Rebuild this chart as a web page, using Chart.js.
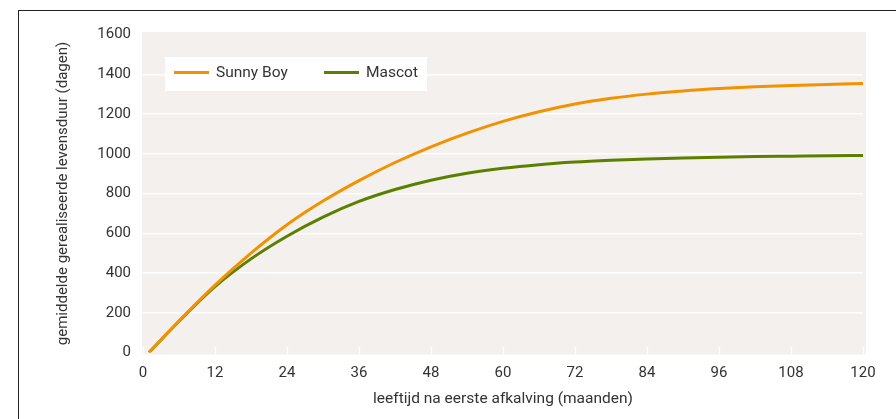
<!DOCTYPE html>
<html>
<head>
<meta charset="utf-8">
<script src="https://cdn.jsdelivr.net/npm/chart.js@4/dist/chart.umd.min.js"></script>
<style>
  html, body { margin: 0; padding: 0; background: #fff; }
  #wrap { position: relative; width: 896px; height: 419px; }
  #frame { position: absolute; left: 18px; top: 10px; right: 0; bottom: 0;
           border-top: 1.5px solid #222; border-left: 1.5px solid #222; }
</style>
</head>
<body>
<div id="wrap">
  <div id="frame"></div>
  <canvas id="chart" width="896" height="419"></canvas>
</div>
<script>
// leeftijd in maanden
var months = [1, 6, 12, 18, 24, 30, 36, 42, 48, 54, 60, 66, 72, 78, 84, 90, 96, 102, 108, 114, 120];
var sunnyBoy = [0, 158, 339, 500, 643, 762, 865, 956, 1035, 1104, 1163, 1211, 1250, 1279, 1300, 1316, 1328, 1337, 1344, 1349, 1353];
var mascot = [0, 157, 331, 471, 585, 681, 760, 820, 867, 902, 927, 945, 958, 967, 974, 979, 983, 986, 988, 990, 991];
var xTicks = [0, 12, 24, 36, 48, 60, 72, 84, 96, 108, 120];
var yTicks = [0, 200, 400, 600, 800, 1000, 1200, 1400, 1600];

var FONT = "'Roboto', 'Liberation Sans', sans-serif";
var TEXT = '#333';

function points(vals) {
    return months.map(function (m, i) { return {x: m, y: vals[i]}; });
}

var bgPlugin = {
    id: 'plotBg',
    beforeDraw: function (chart) {
        var a = chart.chartArea, c = chart.ctx;
        c.save();
        c.fillStyle = '#f3f0ed';
        c.fillRect(a.left - 1, a.top - 2.5, a.right - a.left + 4, a.bottom - a.top + 4.5);
        c.restore();
    },
    beforeDatasetsDraw: function (chart) {
        var a = chart.chartArea, c = chart.ctx, xs = chart.scales.x;
        // kleine witte streepjes onderaan
        c.save();
        c.strokeStyle = '#fff';
        c.lineWidth = 1.5;
        xTicks.forEach(function (t) {
            var px = Math.round(xs.getPixelForValue(t)) + 0.5;
            c.beginPath();
            c.moveTo(px, a.bottom - 5.5);
            c.lineTo(px, a.bottom + 2);
            c.stroke();
        });
        // legenda in het plotvlak
        c.fillStyle = '#fff';
        c.fillRect(165, 57, 262, 34);
        var pos = [174, 324];
        c.font = '15.5px ' + FONT;
        c.textBaseline = 'middle';
        chart.data.datasets.forEach(function (ds, i) {
            c.strokeStyle = ds.borderColor;
            c.lineWidth = 3;
            c.beginPath();
            c.moveTo(pos[i], 72.5);
            c.lineTo(pos[i] + 35, 72.5);
            c.stroke();
            c.fillStyle = TEXT;
            c.fillText(ds.label, pos[i] + 42, 73);
        });
        c.restore();
    }
};

var ctx = document.getElementById('chart').getContext('2d');
var chart = new Chart(ctx, {
    type: 'line',
    data: {
        datasets: [{
            label: 'Sunny Boy',
            data: points(sunnyBoy),
            borderColor: '#f39200',
            borderWidth: 3,
            pointRadius: 0,
            cubicInterpolationMode: 'monotone'
        }, {
            label: 'Mascot',
            data: points(mascot),
            borderColor: '#5c7f00',
            borderWidth: 3,
            pointRadius: 0,
            cubicInterpolationMode: 'monotone'
        }]
    },
    options: {
        responsive: false,
        animation: false,
        layout: { padding: { top: 34.5, right: 33, bottom: 0, left: 0 } },
        plugins: {
            legend: { display: false },
            tooltip: { enabled: false }
        },
        scales: {
            x: {
                type: 'linear',
                min: 0,
                max: 120,
                afterBuildTicks: function (s) { s.ticks = xTicks.map(function (v) { return {value: v}; }); },
                afterFit: function (s) { s.height = 66.5; },
                grid: { display: false, drawTicks: false },
                border: { display: false },
                ticks: { color: TEXT, font: { family: FONT, size: 15 }, padding: 12, maxRotation: 0,
                         callback: function (v) { return String(v); } },
                title: {
                    display: true,
                    text: 'leeftijd na eerste afkalving (maanden)',
                    color: TEXT,
                    font: { family: FONT, size: 15.5 },
                    padding: { top: 0, bottom: 10.5 }
                }
            },
            y: {
                min: 0,
                max: 1600,
                afterBuildTicks: function (s) { s.ticks = yTicks.map(function (v) { return {value: v}; }); },
                afterFit: function (s) { s.width = 143; },
                grid: {
                    color: function (c) { return (c.tick.value === 0 || c.tick.value === 1600) ? 'rgba(0,0,0,0)' : '#fff'; },
                    lineWidth: 1.5,
                    drawTicks: false
                },
                border: { display: false },
                ticks: { color: TEXT, font: { family: FONT, size: 15 }, padding: 12,
                         callback: function (v) { return String(v); } },
                title: {
                    display: true,
                    text: 'gemiddelde gerealiseerde levensduur (dagen)',
                    color: TEXT,
                    font: { family: FONT, size: 15 },
                    padding: { top: 54, bottom: 0 }
                }
            }
        }
    },
    plugins: [bgPlugin]
});
</script>
</body>
</html>
